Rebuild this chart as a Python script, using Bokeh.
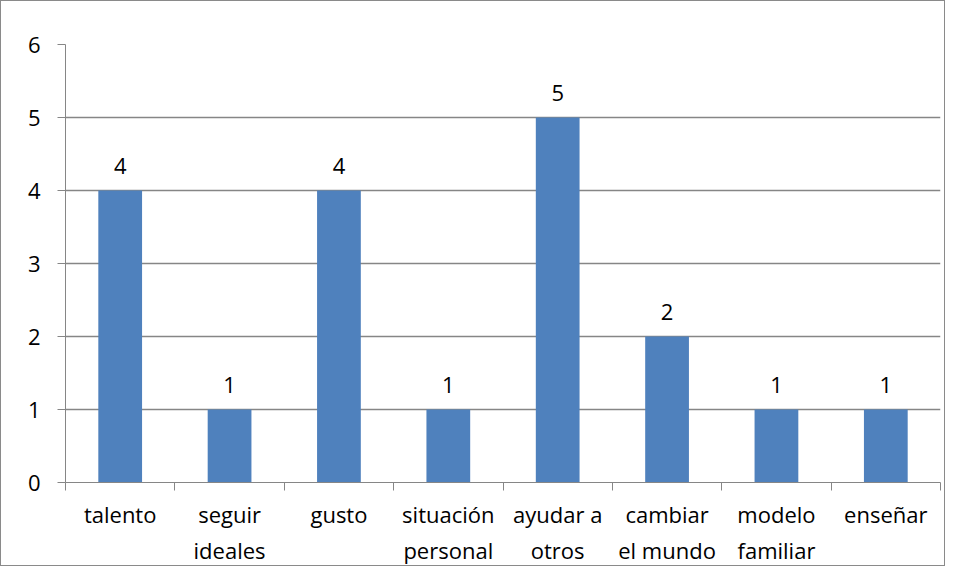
from bokeh.plotting import figure
from bokeh.models import ColumnDataSource, FixedTicker, Range1d
from bokeh.core.properties import value
from bokeh.embed import file_html
from bokeh.resources import INLINE

categories = ["talento", "seguir\nideales", "gusto", "situación\npersonal",
              "ayudar a\notros", "cambiar\nel mundo", "modelo\nfamiliar", "enseñar"]
counts = [4, 1, 4, 1, 5, 2, 1, 1]
y_ticks = [0, 1, 2, 3, 4, 5, 6]

FONT = "Open Sans"
GRAY = "#868686"

xs = [i + 0.5 for i in range(len(categories))]
src = ColumnDataSource(dict(x=xs, top=counts, lab=[str(c) for c in counts]))

p = figure(width=945, height=566, output_backend="svg", toolbar_location=None,
           x_range=Range1d(0, len(categories)), y_range=Range1d(0, 6),
           min_border_left=64, min_border_top=43, min_border_right=6, min_border_bottom=76)
p.styles = {"border": "1px solid #8a8a8a"}
p.outline_line_color = None
p.background_fill_color = "white"
p.border_fill_color = "white"

p.vbar(x="x", top="top", width=0.4, bottom=0, source=src, fill_color="#4F81BD", line_color=None)
p.text(x="x", y="top", text="lab", source=src, text_align="center", text_baseline="bottom",
       y_offset=-17, text_font=value(FONT), text_font_size="22px", text_color="black")

# y axis
p.yaxis.ticker = FixedTicker(ticks=y_ticks)
p.yaxis.axis_line_color = GRAY
p.yaxis.major_tick_line_color = GRAY
p.yaxis.major_tick_out = 8
p.yaxis.major_tick_in = 0
p.yaxis.minor_tick_line_color = None
p.yaxis.major_label_standoff = 17
p.yaxis.major_label_text_font = FONT
p.yaxis.major_label_text_font_size = "22px"
p.yaxis.major_label_text_color = "black"

# x axis: labels at centres, ticks at boundaries
p.xaxis.ticker = FixedTicker(ticks=xs, minor_ticks=list(range(len(categories) + 1)))
p.xaxis.major_label_overrides = {x: c for x, c in zip(xs, categories)}
p.xaxis.axis_line_color = GRAY
p.xaxis.major_tick_line_color = None
p.xaxis.minor_tick_line_color = GRAY
p.xaxis.minor_tick_out = 8
p.xaxis.minor_tick_in = 0
p.xaxis.major_label_standoff = 8
p.xaxis.major_label_text_font = FONT
p.xaxis.major_label_text_font_size = "22px"
p.xaxis.major_label_text_color = "black"
p.xaxis.major_label_text_line_height = 1.2

p.xgrid.grid_line_color = None
p.ygrid.grid_line_color = GRAY
p.ygrid.grid_line_width = 1.5

open("out.html", "w").write(file_html(p, INLINE))
